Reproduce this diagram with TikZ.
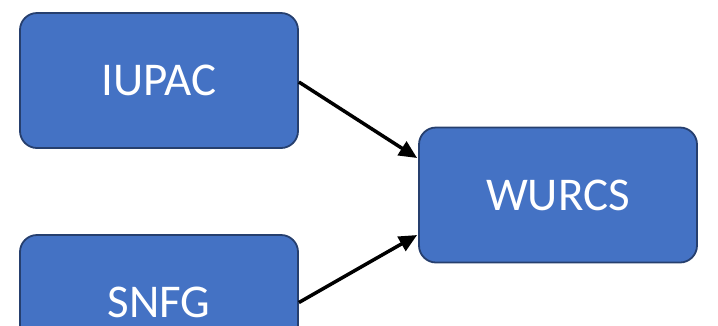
\documentclass[tikz,border=0pt]{standalone}
\usepackage{fontspec}
\setmainfont{Carlito}
\usetikzlibrary{arrows.meta,calc}
\definecolor{boxfill}{HTML}{4472C4}
\definecolor{boxline}{HTML}{263F6E}
\tikzset{
  fmtbox/.style={draw=boxline, line width=1.8pt, fill=boxfill, rounded corners=17pt,
    minimum width=278pt, minimum height=135pt, inner sep=0pt,
    text=white, font=\fontsize{47}{52}\selectfont},
  conn/.style={line width=3.5pt, -{Triangle[length=18pt,width=16pt]}}
}
\begin{document}
\begin{tikzpicture}[x=1pt,y=-1pt]
\useasboundingbox (0,0) rectangle (718,325);
\node[fmtbox] (iupac) at (159,80.5) {IUPAC};
\node[fmtbox] (snfg) at (159,302.5) {SNFG};
\node[fmtbox] (wurcs) at (558,195) {WURCS};
\coordinate (t1) at ($(wurcs.west)+(-1,-37)$);
\coordinate (t2) at ($(wurcs.west)+(-1,40)$);
\draw[conn] ($(iupac.east)+(0,1.5)$) -- (t1);
\draw[conn] (snfg.east) -- (t2);
\end{tikzpicture}
\end{document}
